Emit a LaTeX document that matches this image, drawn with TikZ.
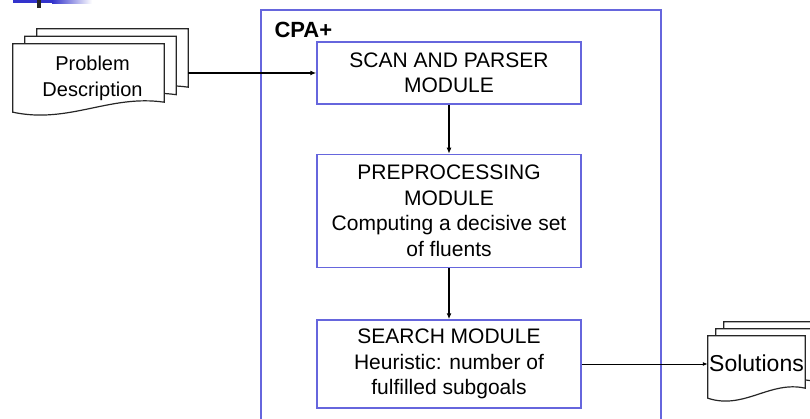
\documentclass[tikz,border=0pt]{standalone}
\usepackage{fontspec}
\setmainfont{Liberation Sans}
\usetikzlibrary{arrows.meta,positioning,calc,backgrounds}
\definecolor{modblue}{RGB}{102,102,221}
\definecolor{barblue}{RGB}{51,51,204}
\tikzset{
  module/.style = {rectangle, draw=modblue, line width=1.5pt, fill=white, align=center,
                   minimum width=264pt, inner sep=2pt, font=\fontsize{21}{25.5}\selectfont},
  doc/.style    = {rectangle, align=center, inner sep=0pt, font=\fontsize{20}{26}\selectfont},
  page/.style   = {draw=black!85, line width=1.2pt, fill=white},
  fl/.style     = {-{Latex[length=6pt,width=5pt]}, line width=2.4pt},
  fln/.style    = {-{Latex[length=5pt,width=4pt]}, line width=1pt},
}
% pile of pages behind a document node: #1 node, #2/#3 shift of each page
\newcommand{\docstack}[3]{%
  \foreach \k in {2,1,0}{
    \filldraw[page]
      ($(#1.north west)+(\k*#2,-\k*#3)$) -- ($(#1.north east)+(\k*#2,-\k*#3)$)
      -- ($(#1.south east)+(\k*#2,-\k*#3-10)$)
      .. controls ($(#1.south west)!0.64!(#1.south east)+(\k*#2,-\k*#3-18)$)
             and ($(#1.south west)!0.37!(#1.south east)+(\k*#2,-\k*#3+12)$)
      .. ($(#1.south west)+(\k*#2,-\k*#3)$) -- cycle;
  }}

\begin{document}
\begin{tikzpicture}[x=1pt, y=-1pt]
  \useasboundingbox (0,0) rectangle (810,419);
  % corner mark
  \fill[barblue] (13,0) rectangle (52,3.5);
  \shade[left color=barblue, right color=white] (52,0) rectangle (92,3.5);
  \fill[black!85] (37,0) rectangle (41,8.5);
  % CPA+ frame, open at the bottom
  \draw[draw=modblue, line width=1.5pt] (261,419) -- (261,10) -- (661,10) -- (661,419);
  \node[anchor=base west, font=\fontsize{22}{24}\selectfont\bfseries] (cpa) at (271,38) {CPA+};

  \node[module, minimum height=62pt] (scan) at (449,73) {SCAN AND PARSER\\MODULE};
  \node[module, minimum height=113pt, below=49pt of scan] (prep)
    {PREPROCESSING\\MODULE\\Computing a decisive set\\of fluents};
  \node[module, minimum height=88pt, below=51pt of prep] (search)
    {SEARCH MODULE\\Heuristic: number of\\fulfilled subgoals};

  \node[doc, minimum width=151pt, minimum height=68pt, text depth=3pt] (probdesc) at (88.5,78)
    {\hspace*{8pt}Problem\\\hspace*{8pt}Description};
  \node[doc, minimum width=97pt, minimum height=62pt, text depth=8pt,
        font=\fontsize{23}{26}\selectfont] (sols) at (756.5,367) {Solutions};
  \begin{scope}[on background layer]
    \docstack{probdesc}{12}{7.5}
    \docstack{sols}{8}{7}
  \end{scope}

  \coordinate (pdout) at ($(probdesc.east)+(24,0)$);
  \draw[fl] (pdout |- scan.west) -- (scan.west);
  \draw[fl] (scan) -- (prep);
  \draw[fl] (prep) -- (search);
  \draw[fln] (search.east) -- (search.east -| sols.west);
\end{tikzpicture}
\end{document}
